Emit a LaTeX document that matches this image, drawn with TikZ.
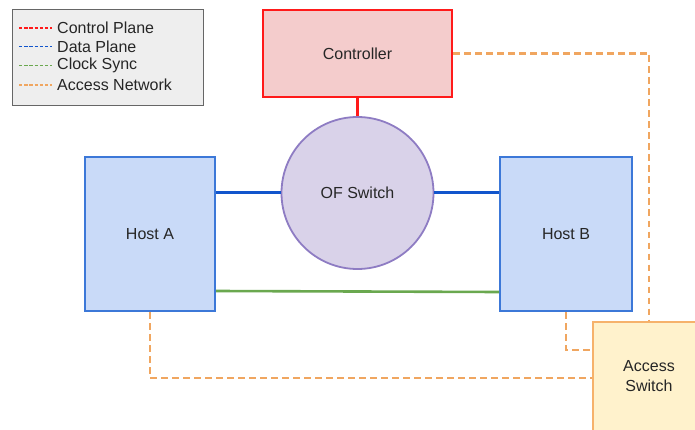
\documentclass[tikz,border=0pt]{standalone}
\usepackage{fontspec}
\setmainfont{Liberation Sans}
\usetikzlibrary{calc}
\definecolor{ctrlfill}{HTML}{F4CCCC}
\definecolor{ctrlline}{HTML}{FF1A1A}
\definecolor{hostfill}{HTML}{C9DAF8}
\definecolor{hostline}{HTML}{3C78D8}
\definecolor{dataline}{HTML}{1155CC}
\definecolor{syncline}{HTML}{6AA84F}
\definecolor{accline}{HTML}{F0A660}
\definecolor{accfill}{HTML}{FFF2CC}
\definecolor{accborder}{HTML}{F6B26B}
\definecolor{swfill}{HTML}{D9D2E9}
\definecolor{swline}{HTML}{8E7CC3}
\definecolor{legfill}{HTML}{EEEEEE}
\definecolor{legline}{HTML}{666666}
\begin{document}
\begin{tikzpicture}[x=1pt,y=-1pt,
  every node/.style={font=\fontsize{16}{19}\selectfont, text=black!85},
  box/.style={draw, line width=2pt, rectangle, inner sep=0pt},
  ctrlbox/.style={box, draw=ctrlline, fill=ctrlfill},
  hostbox/.style={box, draw=hostline, fill=hostfill},
  accbox/.style={box, draw=accborder, fill=accfill},
  switchnode/.style={circle, draw=swline, fill=swfill, line width=1.8pt, inner sep=0pt},
  cplink/.style={draw=ctrlline, line width=3pt},
  dplink/.style={draw=dataline, line width=3pt},
  cslink/.style={draw=syncline, line width=2.6pt},
  anlink/.style={draw=accline, line width=2.6pt, dash pattern=on 6.5pt off 4.5pt},
  legbox/.style={draw=legline, fill=legfill, line width=1pt, inner sep=0pt},
  legdash/.style={line width=1.6pt, dash pattern=on 3.4pt off 1.8pt},
  legtext/.style={anchor=west, inner sep=0pt}
]
\clip (0,0) rectangle (695,430);
\useasboundingbox (0,0) rectangle (695,430);

% legend
\node[legbox, minimum width=191, minimum height=96] (leg) at (107.5,58) {};
\draw[legdash, draw=ctrlline] (19,28) -- (52,28);
\draw[legdash, draw=dataline] (19,46.5) -- (52,46.5);
\draw[legdash, draw=syncline] (19,65.5) -- (52,65.5);
\draw[legdash, draw=accline] (19,85) -- (52,85);
\node[legtext] (lcp) at (57,28) {Control Plane};
\node[legtext] (ldp) at (57,46.5) {Data Plane};
\node[legtext] (lcs) at (57,65.5) {Clock Sync};
\node[legtext] (lan) at (57,85) {Access Network};

% main elements
\node[ctrlbox, minimum width=189, minimum height=87] (ctrl) at (357.5,53.5) {Controller};
\node[switchnode, minimum size=152] (sw) at (357.5,193) {OF Switch};
\node[hostbox, minimum width=130, minimum height=154] (hosta) at (150,234) {Host A};
\node[hostbox, minimum width=132, minimum height=154] (hostb) at (566,234) {Host B};
\node[accbox, minimum width=112, minimum height=118,
      label={[align=center, yshift=5pt, font=\fontsize{16}{19.5}\selectfont, text=black!85]center:Access\\Switch}] (acc) at (649,381) {};

% links
\draw[cplink] (ctrl.south) -- (sw.north);
\draw[dplink] (sw.west -| hosta.east) -- (sw.west);
\draw[dplink] (sw.east) -- (sw.east -| hostb.west);
\draw[cslink] ($(hosta.south east)+(0,-21)$) -- ($(hostb.south west)+(0,-20)$);
\draw[anlink] (ctrl.east) -| (acc.north);
\draw[anlink] (hosta.south) |- ($(acc.west)+(0,-3)$);
\draw[anlink] (hostb.south) |- ($(acc.west)+(0,-31)$);
\end{tikzpicture}
\end{document}
